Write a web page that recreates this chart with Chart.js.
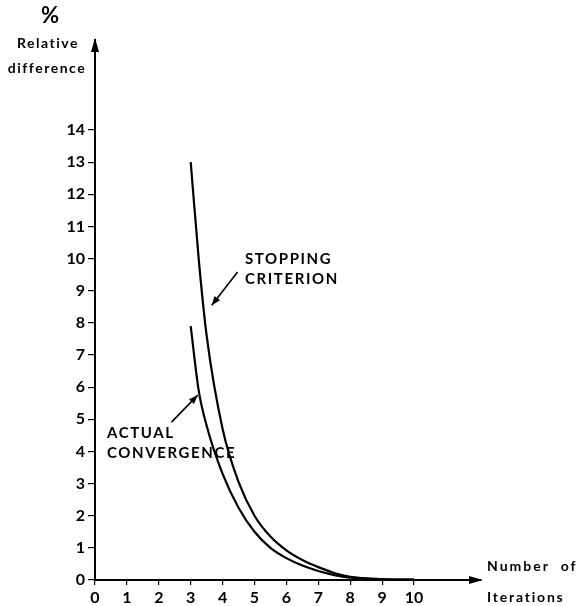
<!DOCTYPE html>
<html>
<head>
<meta charset="utf-8">
<script src="https://cdn.jsdelivr.net/npm/chart.js@4"></script>
<style>
  body { margin: 0; background: #fff; }
  canvas { display: block; }
</style>
</head>
<body>
<canvas id="chart" width="583" height="606"></canvas>
<script>
// data
const xTickValues = [0, 1, 2, 3, 4, 5, 6, 7, 8, 9, 10];
const yTickValues = [0, 1, 2, 3, 4, 5, 6, 7, 8, 9, 10, 11, 12, 13, 14];
const iterations = [3, 3.25, 3.5, 4, 4.5, 5, 5.5, 6, 6.5, 7, 7.5, 8, 9, 10];
const stoppingCriterion = [13.0, 10.0, 7.6, 4.7, 3.05, 2.0, 1.35, 0.92, 0.62, 0.4, 0.22, 0.1, 0.03, 0.01];
const actualConvergence = [7.9, 5.9, 4.8, 3.3, 2.25, 1.5, 1.0, 0.68, 0.45, 0.28, 0.15, 0.07, 0.02, 0.01];

const FONT = 'Lato, "DejaVu Sans", sans-serif';

function toPoints(xs, ys) {
    return xs.map((x, i) => ({ x: x, y: ys[i] }));
}

function arrowHead(ctx, x1, y1, x2, y2, len, wid) {
    const a = Math.atan2(y2 - y1, x2 - x1);
    ctx.beginPath();
    ctx.moveTo(x2, y2);
    ctx.lineTo(x2 - len * Math.cos(a) + wid * Math.sin(a), y2 - len * Math.sin(a) - wid * Math.cos(a));
    ctx.lineTo(x2 - len * Math.cos(a) - wid * Math.sin(a), y2 - len * Math.sin(a) + wid * Math.cos(a));
    ctx.closePath();
    ctx.fill();
}

function arrow(ctx, x1, y1, x2, y2) {
    ctx.beginPath();
    ctx.moveTo(x1, y1);
    ctx.lineTo(x2, y2);
    ctx.stroke();
    arrowHead(ctx, x1, y1, x2, y2, 9, 3.5);
}

const decorations = {
    id: 'decorations',
    afterDraw(chart) {
        const ctx = chart.ctx;
        const xs = chart.scales.x, ys = chart.scales.y;
        const area = chart.chartArea;
        ctx.save();
        ctx.fillStyle = '#000';
        ctx.strokeStyle = '#000';

        // axis arrows
        arrowHead(ctx, area.left, area.top + 20, area.left, area.top - 2, 14, 4);
        arrowHead(ctx, area.right - 20, area.bottom, area.right + 2, area.bottom, 14, 4);

        // axis titles
        ctx.textAlign = 'center';
        ctx.textBaseline = 'middle';
        ctx.font = '700 22px ' + FONT;
        ctx.fillText('%', 50, 16);
        ctx.font = '700 14px ' + FONT;
        ctx.letterSpacing = '1.5px';
        ctx.fillText('Relative', 48, 43);
        ctx.fillText('difference', 47, 68);
        ctx.textAlign = 'left';
        ctx.letterSpacing = '2px';
        ctx.fillText('Number  of', 487, 566);
        ctx.letterSpacing = '1.8px';
        ctx.fillText('Iterations', 487, 597);

        // curve labels
        ctx.font = '700 15px ' + FONT;
        ctx.letterSpacing = '1.6px';
        ctx.fillText('STOPPING', 245, 259);
        ctx.fillText('CRITERION', 245, 279);
        ctx.fillText('ACTUAL', 107, 433);
        ctx.fillText('CONVERGENCE', 107, 453);

        ctx.lineWidth = 1.6;
        arrow(ctx, xs.getPixelForValue(4.47), ys.getPixelForValue(9.58),
                   xs.getPixelForValue(3.66), ys.getPixelForValue(8.55));
        arrow(ctx, xs.getPixelForValue(2.4), ys.getPixelForValue(4.91),
                   xs.getPixelForValue(3.22), ys.getPixelForValue(5.75));
        ctx.restore();
    }
};

function fixedTicks(values) {
    return scale => {
        scale.ticks = values.map(v => ({ value: v }));
    };
}

new Chart(document.getElementById('chart'), {
    type: 'line',
    data: {
        datasets: [{
            label: 'Stopping criterion',
            data: toPoints(iterations, stoppingCriterion),
            borderColor: '#000',
            borderWidth: 2.2,
            pointRadius: 0,
            cubicInterpolationMode: 'monotone',
            fill: false
        }, {
            label: 'Actual convergence',
            data: toPoints(iterations, actualConvergence),
            borderColor: '#000',
            borderWidth: 2.2,
            pointRadius: 0,
            cubicInterpolationMode: 'monotone',
            fill: false
        }]
    },
    options: {
        responsive: false,
        animation: false,
        layout: { padding: { top: 40, right: 102, bottom: 0, left: 0 } },
        plugins: {
            legend: { display: false },
            tooltip: { enabled: false }
        },
        scales: {
            x: {
                type: 'linear',
                min: 0,
                max: 12.1,
                afterBuildTicks: fixedTicks(xTickValues),
                afterFit: scale => { scale.height = 26; },
                border: { color: '#000', width: 2 },
                grid: { drawOnChartArea: false, drawTicks: true, tickLength: 5, color: '#000', lineWidth: 1.2 },
                ticks: {
                    color: '#000',
                    padding: 3,
                    maxRotation: 0,
                    autoSkip: false,
                    font: { family: FONT, size: 16, weight: '700' }
                }
            },
            y: {
                type: 'linear',
                min: 0,
                max: 16.8,
                afterBuildTicks: fixedTicks(yTickValues),
                afterFit: scale => { scale.width = 95; },
                border: { color: '#000', width: 2 },
                grid: { drawOnChartArea: false, drawTicks: true, tickLength: 7, color: '#000', lineWidth: 1.2 },
                ticks: {
                    color: '#000',
                    padding: 3,
                    autoSkip: false,
                    font: { family: FONT, size: 16, weight: '700' }
                }
            }
        }
    },
    plugins: [decorations]
});
</script>
</body>
</html>
